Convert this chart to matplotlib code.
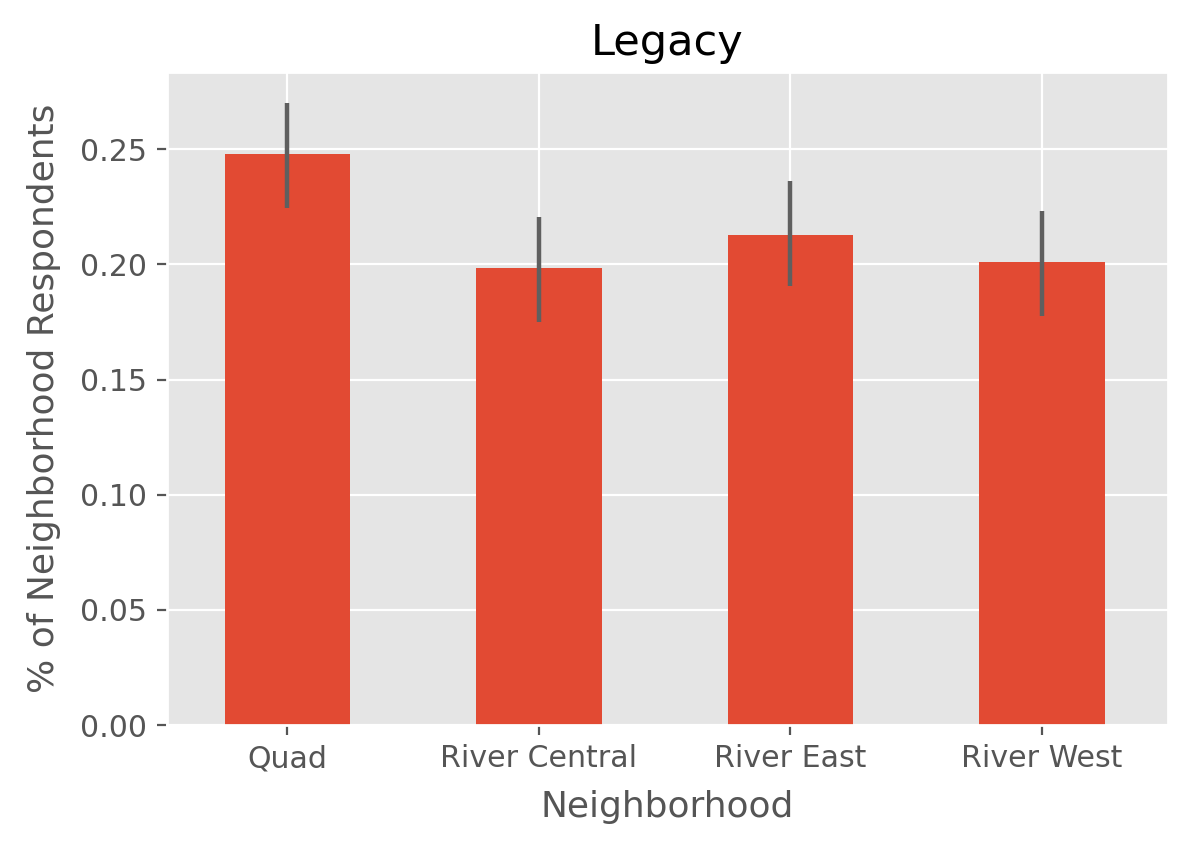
import matplotlib
matplotlib.use("Agg")
import matplotlib.pyplot as plt

neighborhoods = ["Quad", "River Central", "River East", "River West"]
share = [0.2478, 0.1983, 0.2127, 0.2010]
err_low = [0.2244, 0.1749, 0.1905, 0.1775]
err_high = [0.2700, 0.2205, 0.2361, 0.2231]

plt.style.use("ggplot")
plt.rcParams["font.size"] = 10.8

fig, ax = plt.subplots(figsize=(6, 4.24), dpi=200)
x = list(range(len(neighborhoods)))
yerr = [[s - lo for s, lo in zip(share, err_low)],
        [hi - s for s, hi in zip(share, err_high)]]
ax.bar(x, share, width=0.5, color="#E24A33", yerr=yerr,
       error_kw=dict(ecolor="#5f5f5f", elinewidth=1.6, capsize=0))
ax.set_xticks(x)
ax.set_xticklabels(neighborhoods)
ax.set_xlim(-0.48, 3.5)
ax.set_title("Legacy")
ax.set_xlabel("Neighborhood", labelpad=6)
ax.set_ylabel("% of Neighborhood Respondents", labelpad=7)
fig.subplots_adjust(left=0.139, right=0.973, top=0.915, bottom=0.145)
fig.savefig("out.png", dpi=200)
